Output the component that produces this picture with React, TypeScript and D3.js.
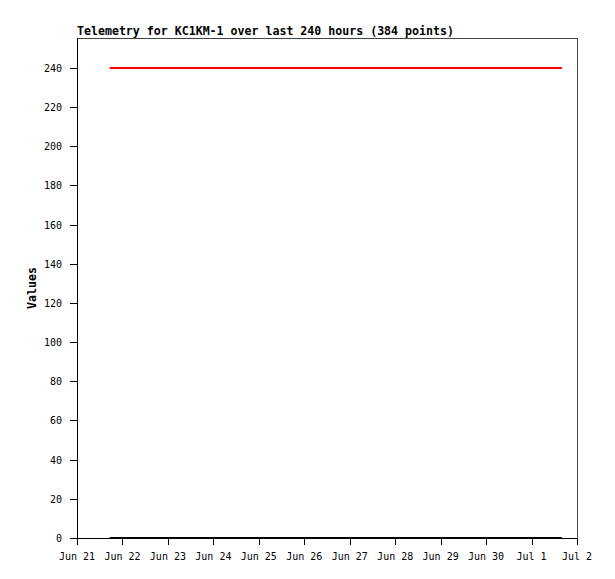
import React from "react";
import * as d3 from "d3";

const title = "Telemetry for KC1KM-1 over last 240 hours (384 points)";
const yLabel = "Values";
const xDomain = ["2024-06-21T00:00", "2024-07-02T00:00"];
const times = ["2024-06-21T17:15", "2024-07-01T16:00"];
const seriesRed = [240, 240];
const seriesBlack = [0, 0];
const yTicks = [0, 20, 40, 60, 80, 100, 120, 140, 160, 180, 200, 220, 240];
const xTickLabels = ["Jun 21", "Jun 22", "Jun 23", "Jun 24", "Jun 25", "Jun 26", "Jun 27", "Jun 28", "Jun 29", "Jun 30", "Jul 1", "Jul 2"];

const W = 615, H = 579;
const L = 77, T = 38, R = 577, B = 538;
const parse = d3.timeParse("%Y-%m-%dT%H:%M");

export default function App() {
  const x = d3.scaleTime().domain(xDomain.map((d) => parse(d) as Date)).range([L, R]);
  const y = d3.scaleLinear().domain([0, 255.3]).range([B, T]);
  const xTicks = d3.timeDay.range(parse(xDomain[0]) as Date, d3.timeDay.offset(parse(xDomain[1]) as Date, 1));
  const pts = (vals: number[]) => times.map((t, i) => [parse(t) as Date, vals[i]] as [Date, number]);
  const line = d3.line<[Date, number]>().x((d) => x(d[0])).y((d) => y(d[1]));
  const mono = "'DejaVu Sans Mono', 'Liberation Mono', monospace";
  return (
    <svg width={W} height={H} style={{ position: "absolute", left: 0, top: 0, background: "#fff" }}>
      <rect x={0} y={0} width={W} height={H} fill="#fff" />
      <text x={L} y={35} fontFamily={mono} fontWeight="bold" fontSize={11.6} fill="#000">{title}</text>
      <line x1={L} x2={R} y1={T + 0.5} y2={T + 0.5} stroke="#444" />
      <line x1={R + 0.5} x2={R + 0.5} y1={T} y2={B} stroke="#444" />
      <path d={line(pts(seriesRed)) || ""} stroke="#ff0000" strokeWidth={2} fill="none" />
      <line x1={L + 0.5} x2={L + 0.5} y1={T} y2={B + 1} stroke="#000" />
      <line x1={L - 7} x2={R + 1} y1={B + 0.5} y2={B + 0.5} stroke="#000" />
      <path d={line(pts(seriesBlack)) || ""} stroke="#000" strokeWidth={2} fill="none" />
      {yTicks.map((v) => (
        <g key={v}>
          <line x1={L - 7} x2={L} y1={Math.round(y(v)) + 0.5} y2={Math.round(y(v)) + 0.5} stroke="#000" />
          <text x={L - 15} y={Math.round(y(v)) + 4} textAnchor="end" fontFamily={mono} fontSize={10} fill="#000">{v}</text>
        </g>
      ))}
      {xTicks.map((d, i) => (
        <g key={i}>
          <line x1={Math.round(x(d)) + 0.5} x2={Math.round(x(d)) + 0.5} y1={B} y2={B + 7} stroke="#000" />
          <text x={x(d)} y={560} textAnchor="middle" fontFamily={mono} fontSize={10} fill="#000">{xTickLabels[i]}</text>
        </g>
      ))}
      <text transform={`translate(36,${(T + B) / 2}) rotate(-90)`} textAnchor="middle" fontFamily={mono} fontWeight="bold" fontSize={11.6} fill="#000">{yLabel}</text>
    </svg>
  );
}
